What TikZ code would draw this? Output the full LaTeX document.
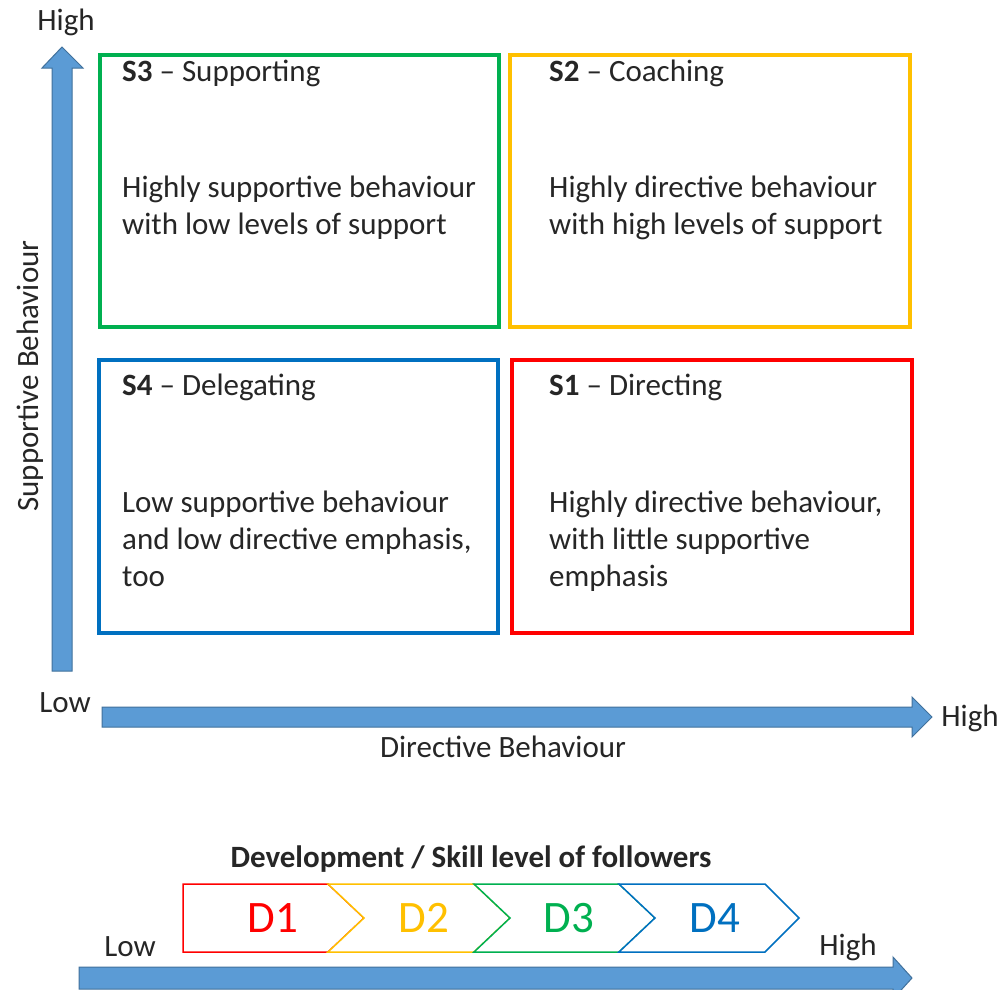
\documentclass[tikz,border=0pt]{standalone}
\usepackage{fontspec}
\setmainfont{Carlito}
\definecolor{arrowfill}{RGB}{91,155,213}
\definecolor{arrowline}{RGB}{65,113,156}
\definecolor{cgreen}{RGB}{0,176,80}
\definecolor{cyellow}{RGB}{255,192,0}
\definecolor{cblue}{RGB}{0,112,192}
\definecolor{cred}{RGB}{255,0,0}
\definecolor{txt}{RGB}{38,38,38}
\begin{document}
\begin{tikzpicture}[x=1pt,y=-1pt,
  quad/.style={draw, line width=3.5pt, fill=white},
  bigarrow/.style={fill=arrowfill, draw=arrowline, line width=1pt},
  lbl/.style={text=txt, font=\fontsize{31}{37}\selectfont, inner sep=0pt},
  body/.style={text=txt, font=\fontsize{31}{37}\selectfont, inner sep=0pt, align=left, anchor=north west},
  chev/.style={draw, line width=1.5pt, fill=white},
  dl/.style={font=\fontsize{45}{48}\selectfont, inner sep=0pt}]
\useasboundingbox (0,0) rectangle (1002,989);
\clip (0,0) rectangle (1002,989);
\fill[white] (0,0) rectangle (1002,989);

% vertical axis arrow
\draw[bigarrow] (52,671) -- (52,68) -- (42,68) -- (62,47) -- (83,68) -- (72,68) -- (72,671) -- cycle;
\node[lbl] (yhigh) at (66,22) {High};
\node[lbl, rotate=90] (ylabel) at (30,376) {Supportive Behaviour};

% horizontal axis arrow
\draw[bigarrow] (102,707) -- (912,707) -- (912,697) -- (932,717) -- (912,737) -- (912,727) -- (102,727) -- cycle;
\node[lbl] (xlow) at (65,703) {Low};
\node[lbl] (xhigh) at (970,718) {High};
\node[lbl] (xlabel) at (503,747) {Directive Behaviour};

% quadrants
\draw[quad, draw=cgreen] (100,55) rectangle (499,327);
\draw[quad, draw=cyellow] (510,55) rectangle (910,327);
\draw[quad, draw=cblue] (99,360) rectangle (498,633);
\draw[quad, draw=cred] (512,360) rectangle (912,633);

\node[lbl, anchor=west] (s3) at (122,73) {\textbf{S3} -- Supporting};
\node[body] (s3b) at (122,176) {Highly supportive behaviour\\with low levels of support};
\node[lbl, anchor=west] (s2) at (549,73) {\textbf{S2} -- Coaching};
\node[body] (s2b) at (549,176) {Highly directive behaviour\\with high levels of support};
\node[lbl, anchor=west] (s4) at (122,387) {\textbf{S4} -- Delegating};
\node[body] (s4b) at (122,491) {Low supportive behaviour\\and low directive emphasis,\\too};
\node[lbl, anchor=west] (s1) at (549,387) {\textbf{S1} -- Directing};
\node[body] (s1b) at (549,491) {Highly directive behaviour,\\with little supportive\\emphasis};

% development scale
\node[lbl] (dtitle) at (471,859) {\textbf{Development / Skill level of followers}};
\draw[chev, draw=cred] (183,884) -- (328,884) -- (364,918) -- (328,952) -- (183,952) -- cycle;
\draw[chev, draw=cyellow] (328,884) -- (474,884) -- (510,918) -- (474,952) -- (328,952) -- (364,918) -- cycle;
\draw[chev, draw=cgreen] (474,884) -- (619,884) -- (655,918) -- (619,952) -- (474,952) -- (510,918) -- cycle;
\draw[chev, draw=cblue] (619,884) -- (765,884) -- (799,918) -- (765,952) -- (619,952) -- (655,918) -- cycle;
\node[dl, text=cred] (d1) at (273,918) {D1};
\node[dl, text=cyellow] (d2) at (424,918) {D2};
\node[dl, text=cgreen] (d3) at (569,918) {D3};
\node[dl, text=cblue] (d4) at (715,918) {D4};

\draw[bigarrow] (79,967) -- (893,967) -- (893,957) -- (912,978) -- (893,999) -- (893,989) -- (79,989) -- cycle;
\node[lbl] (blow) at (130,947) {Low};
\node[lbl] (bhigh) at (848,947) {High};
\end{tikzpicture}
\end{document}
